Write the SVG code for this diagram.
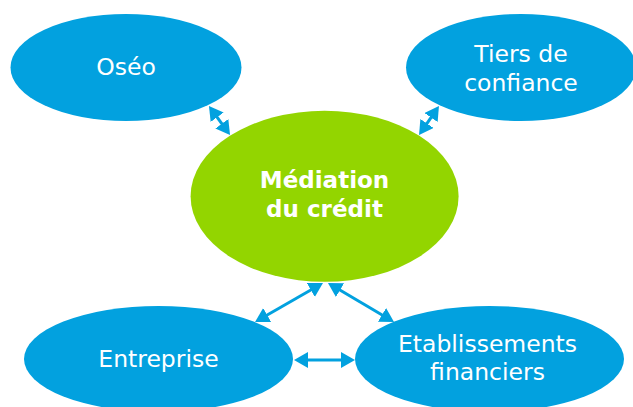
<svg xmlns="http://www.w3.org/2000/svg" width="633" height="407" viewBox="0 0 633 407">
<style>
.blue{fill:#02A1DF}
.green{fill:#93D500}
.t{font-family:"DejaVu Sans",Verdana,sans-serif;font-size:23.5px;fill:#ffffff;text-anchor:middle}
.b{font-weight:bold;font-size:23px}
.c{stroke:#02A1DF;stroke-width:3;fill:none;marker-start:url(#ah);marker-end:url(#ah)}
</style>
<defs>
<marker id="ah" markerUnits="userSpaceOnUse" markerWidth="16" markerHeight="18" refX="10" refY="8" orient="auto-start-reverse">
<path d="M0,0 L14,8 L0,16 z" fill="#02A1DF"/>
</marker>
</defs>
<rect width="633" height="407" fill="#ffffff"/>
<g id="oseo">
<ellipse class="blue" cx="126" cy="67.5" rx="115.5" ry="53.5"/>
<text class="t" x="126" y="75">Oséo</text>
</g>
<g id="tiers">
<ellipse class="blue" cx="521" cy="67.5" rx="115" ry="53.5"/>
<text class="t" x="521" y="61.5">Tiers de</text>
<text class="t" x="521" y="91">confiance</text>
</g>
<g id="mediation">
<ellipse class="green" cx="324.6" cy="196.3" rx="134" ry="85.5"/>
<text class="t b" x="324.5" y="188.3">Médiation</text>
<text class="t b" x="324.5" y="216.7">du crédit</text>
</g>
<g id="entreprise">
<ellipse class="blue" cx="158.5" cy="359" rx="134.5" ry="53"/>
<text class="t" x="158.5" y="366.7">Entreprise</text>
</g>
<g id="etablissements">
<ellipse class="blue" cx="489.5" cy="359" rx="134.5" ry="53"/>
<text class="t" x="487.5" y="351.7">Etablissements</text>
<text class="t" x="487.5" y="380">financiers</text>
</g>
<g id="connectors">
<path class="c" d="M211.3,109.2 L227.7,131.8"/>
<path class="c" d="M436.7,109.3 L421.3,131.7"/>
<path class="c" d="M319.5,285 L258.5,320"/>
<path class="c" d="M331.4,285 L390.6,320"/>
<path class="c" d="M298,360 L351,360"/>
</g>
</svg>
